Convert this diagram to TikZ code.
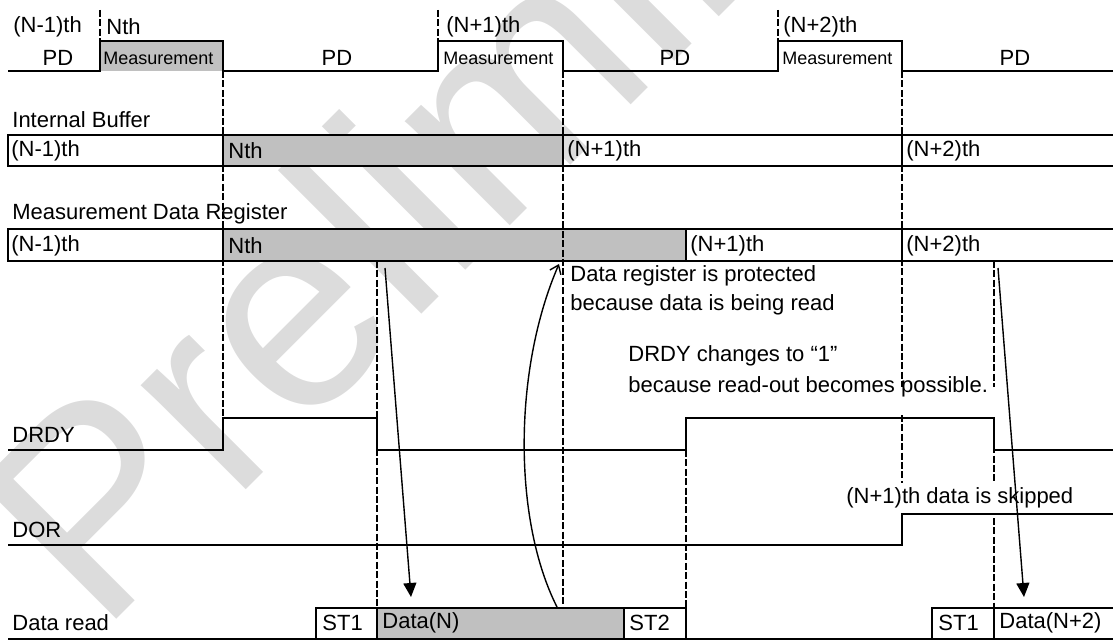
\documentclass[tikz,border=0pt]{standalone}
\usepackage{fontspec}
\setmainfont{Liberation Sans}
\usetikzlibrary{arrows.meta,positioning,calc}
\definecolor{Ink}{HTML}{000000}
\definecolor{BusGrey}{HTML}{C0C0C0}
\definecolor{MarkGrey}{HTML}{DCDCDC}

\begin{document}
\begin{tikzpicture}[
  x=0.5pt, y=-0.5pt,
  wave/.style={line width=1.4pt, draw=Ink},
  guide/.style={line width=1pt, draw=Ink, dash pattern=on 3.5pt off 1.2pt},
  lbl/.style={anchor=west, inner sep=0pt, text=Ink, font=\fontsize{11}{13}\selectfont},
  mtext/.style={lbl, font=\fontsize{9}{11}\selectfont},
  pdtext/.style={lbl, anchor=center},
  readarrow/.style={-{Triangle[length=7pt,width=6.5pt]}, line width=0.7pt, draw=Ink},
  backarrow/.style={-{Straight Barb[length=4pt,width=6pt]}, line width=0.7pt, draw=Ink}
]
\useasboundingbox (0,0) rectangle (1113,641);
\node[rotate=45, anchor=base west, inner sep=0pt, text=MarkGrey, font=\fontsize{140}{140}\selectfont] (mark) at (100,636) {Preliminary};

\fill[BusGrey] (100,41) rectangle (223,71);
\fill[BusGrey] (223,135) rectangle (563,166);
\fill[BusGrey] (223,229) rectangle (686,261);
\fill[BusGrey] (377,608) rectangle (624,639);

\draw[guide] (100,10) -- (100,41);
\draw[guide] (438,10) -- (438,41);
\draw[guide] (778,10) -- (778,41);
\draw[guide] (223,71) -- (223,418);
\draw[guide] (377,261) -- (377,608);
\draw[guide] (563,71) -- (563,608);
\draw[guide] (686,450) -- (686,608);
\draw[guide] (902,71) -- (902,387);
\draw[guide] (902,415) -- (902,483);
\draw[guide] (994,261) -- (994,387);
\draw[guide] (994,418) -- (994,483);
\draw[guide] (994,518) -- (994,608);

\draw[wave] (8,71) -- (100,71) -- (100,41) -- (223,41) -- (223,71) -- (438,71) -- (438,41) -- (563,41) -- (563,71)
  -- (778,71) -- (778,41) -- (902,41) -- (902,71) -- (1113,71);
\draw[wave] (1113,135) -- (8,135) -- (8,166) -- (1113,166);
\draw[wave] (223,135) -- (223,166) (563,135) -- (563,166) (902,135) -- (902,166);
\draw[wave] (1113,229) -- (8,229) -- (8,261) -- (1113,261);
\draw[wave] (223,229) -- (223,261) (686,229) -- (686,261) (902,229) -- (902,261);
\draw[wave] (8,450) -- (223,450) -- (223,418) -- (377,418) -- (377,450) -- (686,450) -- (686,418) -- (994,418)
  -- (994,450) -- (1113,450);
\draw[wave] (8,545) -- (902,545) -- (902,514) -- (1113,514);
\draw[wave] (8,639) -- (1113,639);
\draw[wave] (316,639) -- (316,608) -- (686,608) -- (686,639);
\draw[wave] (932,639) -- (932,608) -- (1113,608);
\draw[wave] (377,608) -- (377,639) (624,608) -- (624,639) (994,608) -- (994,639);

\node[lbl] (prevtop) at (13,27) {(N-1)th};
\node[lbl] (ntop) at (106,27) {Nth};
\node[lbl] (n1top) at (446,27) {(N+1)th};
\node[lbl] (n2top) at (783,27) {(N+2)th};
\node[pdtext] (pd0) at (58,58) {PD};
\node[pdtext] (pd1) at (337,58) {PD};
\node[pdtext] (pd2) at (675,58) {PD};
\node[pdtext] (pd3) at (1015,58) {PD};
\node[mtext] (meas0) at (103,58) {Measurement};
\node[mtext] (meas1) at (443,58) {Measurement};
\node[mtext] (meas2) at (782,58) {Measurement};

\node[lbl] (buftitle) at (12,120) {Internal Buffer};
\node[lbl] (buf0) at (11,151) {(N-1)th};
\node[lbl] (buf1) at (228,151) {Nth};
\node[lbl] (buf2) at (567,151) {(N+1)th};
\node[lbl] (buf3) at (906,151) {(N+2)th};

\node[lbl] (regtitle) at (12,214) {Measurement Data Register};
\node[lbl] (reg0) at (11,246) {(N-1)th};
\node[lbl] (reg1) at (228,246) {Nth};
\node[lbl] (reg2) at (690,246) {(N+1)th};
\node[lbl] (reg3) at (906,246) {(N+2)th};

\node[lbl] (prot1) at (570,276) {Data register is protected};
\node[lbl] (prot2) at (570,305) {because data is being read};
\node[lbl] (drdy1) at (628,356) {DRDY changes to “1”};
\node[lbl] (drdy2) at (628,387) {because read-out becomes possible.};
\node[lbl] (skip) at (846,498) {(N+1)th data is skipped};

\node[lbl] (drdylbl) at (12,435) {DRDY};
\node[lbl] (dorlbl) at (12,530) {DOR};
\node[lbl] (readlbl) at (12,623) {Data read};
\node[lbl] (st1a) at (322,623) {ST1};
\node[lbl] (datan) at (382,623) {Data(N)};
\node[lbl] (st2) at (629,623) {ST2};
\node[lbl] (st1b) at (938,623) {ST1};
\node[lbl] (datan2) at (999,623) {Data(N+2)};

\coordinate (readA) at (385,268);
\coordinate (readAend) at (411,597);
\coordinate (protStart) at (557,607);
\coordinate (protEnd) at (559,264);
\coordinate (readB) at (998,268);
\coordinate (readBend) at (1024,597);
\draw[readarrow] (readA) -- (readAend);
\draw[readarrow] (readB) -- (readBend);
\draw[backarrow] (protStart) .. controls (513,520) and (513,370) .. (protEnd);
\end{tikzpicture}
\end{document}
